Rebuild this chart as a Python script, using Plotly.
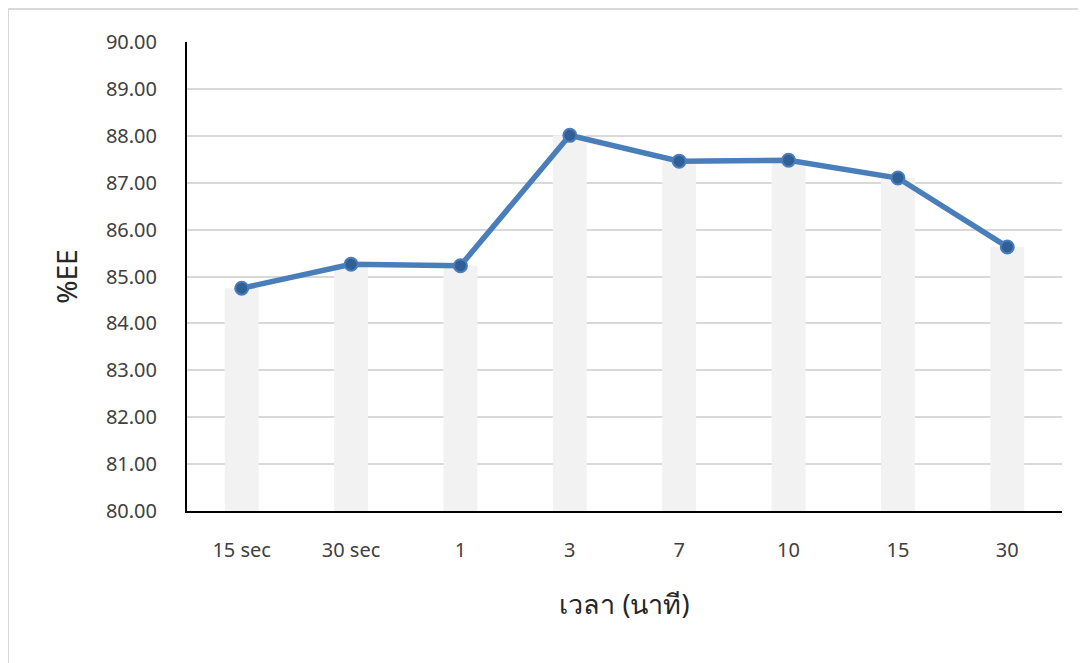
import plotly.graph_objects as go

categories = ["15 sec", "30 sec", "1", "3", "7", "10", "15", "30"]
ee_values = [84.75, 85.26, 85.23, 88.01, 87.46, 87.48, 87.10, 85.63]
y_ticks = [80, 81, 82, 83, 84, 85, 86, 87, 88, 89, 90]

FONT = "Segoe UI, Tahoma, Noto Sans, DejaVu Sans, sans-serif"

fig = go.Figure()
fig.add_trace(go.Bar(
    x=categories, y=ee_values, base=0,
    marker=dict(color="#f2f2f2", line=dict(width=0)),
    width=0.31, hoverinfo="skip", showlegend=False,
))
fig.add_trace(go.Scatter(
    x=categories, y=ee_values, mode="lines+markers",
    line=dict(color="#4a7ebb", width=5.5),
    marker=dict(size=13, color="#2f5f96", line=dict(color="#4a7ebb", width=2)),
    showlegend=False,
))

fig.update_layout(
    width=1086, height=663,
    margin=dict(l=179, r=32, t=34, b=160),
    paper_bgcolor="white", plot_bgcolor="white",
    font=dict(family=FONT, color="#404040"),
    xaxis=dict(
        type="category", showgrid=False, showline=True, linecolor="#000000", linewidth=2,
        ticks="", tickfont=dict(size=20, color="#404040"), ticklabelstandoff=20,
        title=dict(text="เวลา (นาที)", font=dict(size=27, color="#262626"), standoff=33),
    ),
    yaxis=dict(
        range=[80, 90], tickvals=y_ticks, tickformat=".2f",
        showgrid=True, gridcolor="#d9d9d9", gridwidth=1.5,
        showline=True, linecolor="#000000", linewidth=2, ticks="",
        zeroline=False, ticklabelstandoff=24,
        tickfont=dict(size=20, color="#404040"),
        title=dict(text="%EE", font=dict(size=28, color="#262626"), standoff=20),
    ),
    shapes=[dict(
        type="rect", xref="paper", yref="paper",
        x0=-0.2046, y0=-0.35, x1=1.05, y1=1.0704,
        line=dict(color="#d9d9d9", width=2), layer="below",
    )],
)

fig.write_html("out.html")
